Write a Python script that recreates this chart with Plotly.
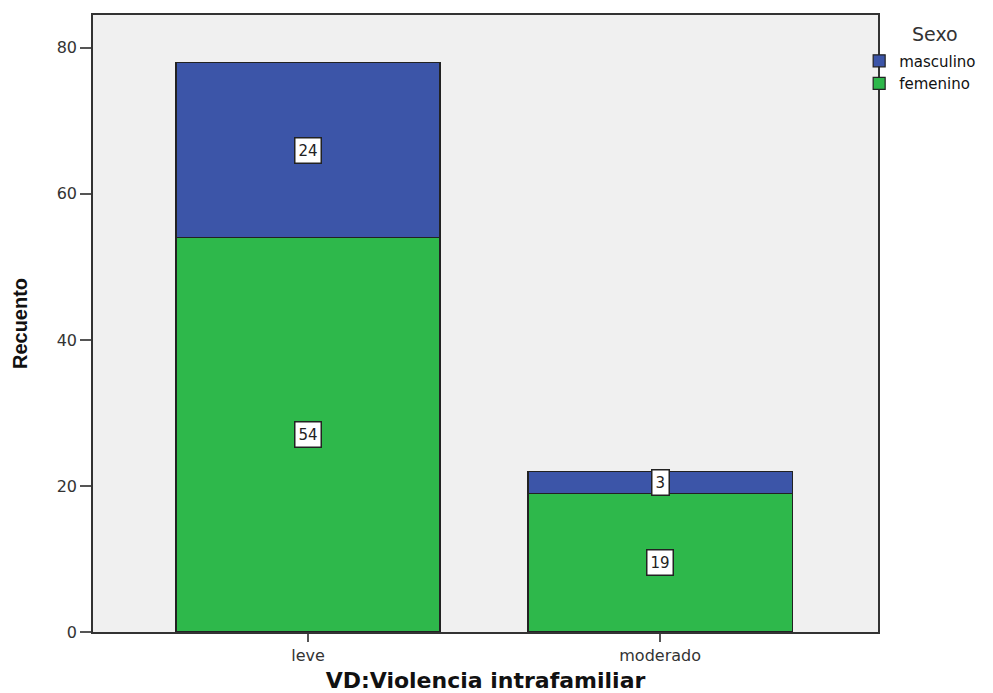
import plotly.graph_objects as go

categories = ["leve", "moderado"]
femenino = [54, 19]
masculino = [24, 3]
y_ticks = [0, 20, 40, 60, 80]
legend_title = "Sexo"

blue = "#3c55a8"
green = "#2eb84b"
base_font = "DejaVu Sans, Verdana, sans-serif"

fig = go.Figure()
fig.add_trace(go.Bar(x=categories, y=femenino, name="femenino",
                     marker=dict(color=green, line=dict(color="#222", width=1.2)), width=0.75))
fig.add_trace(go.Bar(x=categories, y=masculino, name="masculino",
                     marker=dict(color=blue, line=dict(color="#222", width=1.2)), width=0.75))

for i, c in enumerate(categories):
    for base, val in ((0, femenino[i]), (femenino[i], masculino[i])):
        fig.add_annotation(x=c, y=base + val / 2, text=str(val), showarrow=False,
                           bgcolor="white", bordercolor="#222", borderwidth=1.5, borderpad=3,
                           font=dict(family=base_font, size=15, color="#222"))

fig.add_annotation(xref="paper", yref="paper", x=1.0 + (935 - 878) / 785, y=1.0 - (34 - 15) / 617,
                   xanchor="center", yanchor="middle", text=legend_title, showarrow=False,
                   font=dict(family=base_font, size=19, color="#333"))

fig.update_layout(
    width=985, height=685,
    margin=dict(l=85, r=115, t=7, b=61, autoexpand=False),
    plot_bgcolor="#f0f0f0", paper_bgcolor="white",
    barmode="stack",
    showlegend=True,
    legend=dict(x=0.976, xanchor="left", y=0.952, yanchor="top", traceorder="reversed",
                font=dict(family=base_font, size=15, color="#111"),
                itemwidth=30, tracegroupgap=0, bgcolor="rgba(0,0,0,0)"),
    xaxis=dict(range=[-0.611, 1.619], showline=True, linecolor="#333", linewidth=1.5, mirror=True,
               automargin=False,
               ticks="outside", ticklen=8, tickcolor="#555", tickwidth=1.5,
               tickfont=dict(family=base_font, size=16, color="#333"),
               title=dict(text="<b>VD:Violencia intrafamiliar</b>",
                          font=dict(family=base_font, size=22, color="#111"), standoff=10)),
    yaxis=dict(range=[0, 84.5], tickvals=y_ticks, showgrid=False, zeroline=False,
               showline=True, linecolor="#333", linewidth=1.5, mirror=True,
               automargin=False,
               ticks="outside", ticklen=11, tickcolor="#555", tickwidth=1.5,
               tickfont=dict(family=base_font, size=16, color="#333"),
               title=dict(text="<b>Recuento</b>",
                          font=dict(family="Liberation Sans, Arial", size=20, color="#111"), standoff=24)),
)

fig.write_html("out.html")
